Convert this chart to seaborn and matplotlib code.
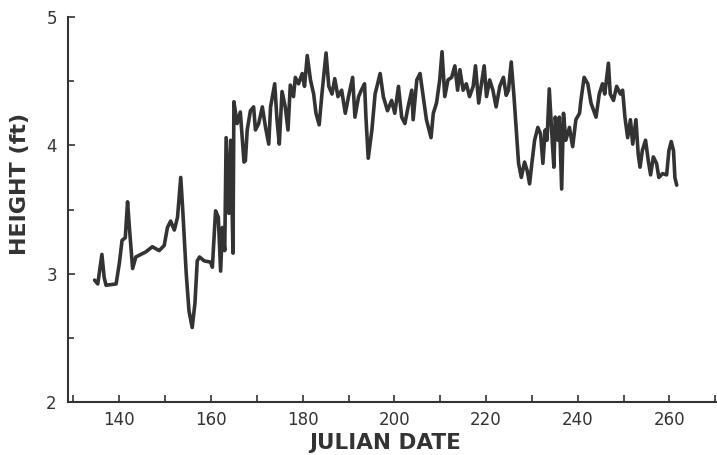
import matplotlib
matplotlib.use("Agg")
import matplotlib.pyplot as plt
import seaborn as sns
import pandas as pd
from matplotlib.ticker import FixedLocator, FuncFormatter, MultipleLocator

# Water surface height record, Julian day vs height in feet
julian_day = [
    134.6, 135.3, 136.2, 136.7, 137.1, 139.3, 140.0, 140.6, 141.3, 141.8,
    142.2, 142.9, 143.6, 145.8, 147.2, 148.7, 149.8, 150.5, 151.2, 152.0,
    152.7, 153.4, 153.8, 154.6, 155.2, 155.9, 156.5, 157.0, 157.5, 158.5,
    159.9, 160.3, 161.0, 161.6, 162.1, 162.5, 163.0, 163.3, 163.9, 164.3,
    164.8, 165.0, 165.7, 166.4, 167.2, 167.5, 167.9, 168.6, 169.3, 169.7,
    170.4, 171.2, 171.9, 172.6, 173.0, 173.9, 174.4, 174.9, 175.5, 176.2,
    176.8, 177.3, 178.0, 178.4, 179.1, 179.9, 180.4, 181.0, 181.7, 182.4,
    182.9, 183.6, 184.2, 185.1, 185.7, 186.4, 187.0, 187.7, 188.5, 189.3,
    190.0, 190.9, 191.4, 192.2, 192.8, 193.5, 193.8, 194.3, 195.1, 195.8,
    196.9, 197.6, 198.5, 199.4, 200.1, 200.9, 201.6, 202.3, 203.0, 203.8,
    204.1, 204.9, 205.6, 206.3, 207.0, 208.0, 208.5, 209.2, 209.9, 210.4,
    211.0, 211.7, 212.5, 213.2, 213.8, 214.3, 215.0, 215.7, 216.4, 217.2,
    217.7, 218.4, 219.0, 219.6, 220.1, 220.8, 221.5, 222.2, 223.0, 223.8,
    224.4, 224.9, 225.5, 226.1, 226.6, 227.1, 227.7, 228.4, 229.0, 229.5,
    230.0, 230.6, 231.3, 231.9, 232.4, 232.9, 233.3, 233.8, 234.3, 234.8,
    235.1, 235.7, 236.0, 236.5, 236.9, 237.4, 238.2, 238.9, 239.6, 240.4,
    240.7, 241.4, 242.2, 242.9, 244.0, 244.7, 245.4, 245.9, 246.7, 247.1,
    247.8, 248.5, 249.3, 249.8, 250.3, 250.9, 251.5, 252.0, 252.7, 253.2,
    253.6, 254.1, 254.8, 255.4, 255.9, 256.5, 257.2, 257.7, 258.5, 259.4,
    259.9, 260.4, 260.9, 261.2, 261.6,
]
height_ft = [
    2.95, 2.92, 3.15, 2.97, 2.91, 2.92, 3.08, 3.26, 3.28, 3.56,
    3.36, 3.04, 3.13, 3.17, 3.21, 3.18, 3.22, 3.36, 3.41, 3.34,
    3.44, 3.75, 3.52, 3.00, 2.71, 2.58, 2.77, 3.10, 3.13, 3.10,
    3.09, 3.05, 3.49, 3.44, 3.02, 3.36, 3.18, 4.06, 3.47, 4.04,
    3.16, 4.34, 4.17, 4.26, 3.87, 3.88, 4.12, 4.27, 4.30, 4.12,
    4.17, 4.30, 4.14, 4.01, 4.30, 4.48, 4.20, 4.01, 4.42, 4.30,
    4.12, 4.47, 4.38, 4.53, 4.48, 4.56, 4.46, 4.70, 4.51, 4.40,
    4.25, 4.16, 4.40, 4.72, 4.46, 4.40, 4.52, 4.38, 4.43, 4.25,
    4.38, 4.53, 4.22, 4.38, 4.43, 4.48, 4.22, 3.90, 4.12, 4.40,
    4.56, 4.38, 4.27, 4.35, 4.25, 4.46, 4.22, 4.17, 4.30, 4.43,
    4.20, 4.51, 4.56, 4.38, 4.20, 4.06, 4.25, 4.33, 4.51, 4.73,
    4.38, 4.51, 4.53, 4.62, 4.43, 4.59, 4.43, 4.48, 4.38, 4.46,
    4.62, 4.33, 4.48, 4.62, 4.38, 4.51, 4.43, 4.30, 4.46, 4.53,
    4.39, 4.43, 4.65, 4.38, 4.12, 3.86, 3.75, 3.87, 3.80, 3.70,
    3.86, 4.04, 4.14, 4.09, 3.86, 4.12, 4.04, 4.44, 4.12, 3.83,
    4.22, 4.04, 4.22, 3.66, 4.25, 4.04, 4.14, 3.99, 4.20, 4.25,
    4.35, 4.53, 4.48, 4.33, 4.22, 4.40, 4.48, 4.40, 4.64, 4.40,
    4.35, 4.46, 4.40, 4.43, 4.22, 4.06, 4.20, 4.01, 4.20, 3.93,
    3.83, 3.96, 4.04, 3.88, 3.77, 3.91, 3.86, 3.75, 3.78, 3.77,
    3.96, 4.03, 3.96, 3.75, 3.69,
]

x_tick_values = list(range(130, 271, 10))
x_tick_labels = [140, 160, 180, 200, 220, 240, 260]
y_tick_values = [2, 3, 4, 5]

sns.set_style("ticks")
plt.rcParams["font.family"] = ["DejaVu Sans"]

ink = "#333333"
df = pd.DataFrame({"day": julian_day, "height": height_ft})

fig = plt.figure(figsize=(7.17, 4.55), dpi=100)
ax = fig.add_axes([0.0948, 0.1165, 0.904, 0.846])

sns.lineplot(data=df, x="day", y="height", ax=ax, color=ink,
             linewidth=2.6, sort=False, estimator=None)

ax.set_xlim(128.8, 270.2)
ax.set_ylim(2, 5)

ax.xaxis.set_major_locator(FixedLocator(x_tick_values))
ax.xaxis.set_major_formatter(FuncFormatter(
    lambda v, p: f"{int(round(v))}" if int(round(v)) in x_tick_labels else ""))
ax.yaxis.set_major_locator(FixedLocator(y_tick_values))
ax.yaxis.set_minor_locator(MultipleLocator(0.5))
ax.yaxis.set_major_formatter(FuncFormatter(lambda v, p: f"{int(round(v))}"))

ax.tick_params(axis="x", which="major", pad=6.5)
ax.tick_params(axis="y", which="major", pad=8)
ax.tick_params(axis="both", which="major", direction="in", length=5,
               width=1.2, color=ink, labelsize=12, labelcolor=ink)
ax.tick_params(axis="y", which="minor", direction="in", length=4,
               width=1.2, color=ink)

for side in ("top", "right"):
    ax.spines[side].set_visible(False)
for side in ("left", "bottom"):
    ax.spines[side].set_linewidth(1.5)
    ax.spines[side].set_color(ink)

ax.set_xlabel("JULIAN DATE", fontsize=15.5, fontweight="bold", color=ink)
ax.set_ylabel("HEIGHT (ft)", fontsize=16, fontweight="bold", color=ink)
ax.xaxis.set_label_coords(0.49, -0.122)
ax.xaxis.label.set_verticalalignment("baseline")
ax.yaxis.set_label_coords(-0.058, 0.567)

fig.savefig("out.png", dpi=100, facecolor="white")
